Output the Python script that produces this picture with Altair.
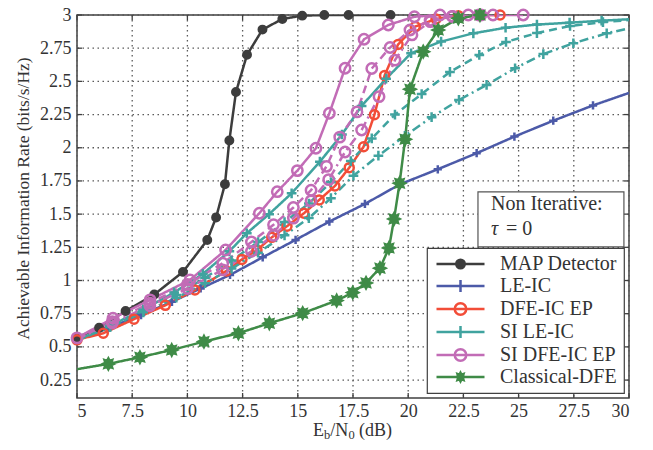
import math
import altair as alt
import pandas as pd

# ---------------- data ----------------
SERIES = ["MAP Detector", "LE-IC", "DFE-IC EP", "SI LE-IC", "SI DFE-IC EP", "Classical-DFE"]
COLORS = ["#3d3d3d", "#4c5aa8", "#f24d38", "#40a39f", "#c26cb6", "#3f8b47"]

MAP_x = [5.0, 6.0, 7.2, 8.5, 9.8, 10.9, 11.3, 11.7, 11.9, 12.2, 12.7, 13.4, 14.3, 15.2, 16.2, 17.3, 19.2]
MAP_y = [0.57, 0.645, 0.77, 0.895, 1.065, 1.305, 1.475, 1.725, 2.055, 2.42, 2.70, 2.89, 2.97, 2.995, 3.0, 3.0, 3.0]

LE_x = [5.0, 6.4, 7.9, 9.3, 10.6, 11.93, 13.41, 14.9, 16.43, 18.04, 19.63, 21.34, 23.1, 24.81, 26.57, 28.37, 30.0]
LE_y = [0.55, 0.64, 0.74, 0.84, 0.94, 1.042, 1.175, 1.306, 1.444, 1.577, 1.725, 1.838, 1.959, 2.084, 2.204, 2.319, 2.413]

DFE_x = [5.0, 6.19, 7.58, 9.0, 10.34, 11.77, 12.47, 13.15, 13.82, 14.51, 15.28, 15.97, 16.68, 17.33,
         17.98, 18.47, 18.93, 19.54, 20.32, 21.26, 22.27, 23.22, 24.16]
DFE_y = [0.553, 0.603, 0.709, 0.813, 0.929, 1.072, 1.159, 1.23, 1.325, 1.409, 1.507, 1.607, 1.712, 1.85,
         2.008, 2.249, 2.544, 2.778, 2.913, 2.97, 2.995, 3.0, 3.0]

SLE_x = [5.0, 6.5, 8.0, 9.4, 10.7, 11.9, 12.69, 13.7, 14.72, 16.0, 17.0, 17.89, 19.0, 20.13, 21.49, 22.95,
         24.41, 25.83, 27.31, 28.76, 30.0]
SLE_y = [0.55, 0.66, 0.78, 0.91, 1.05, 1.22, 1.356, 1.50, 1.657, 1.895, 2.10, 2.315, 2.52, 2.712, 2.80, 2.862,
         2.904, 2.928, 2.942, 2.957, 2.968]

SLE_dash_x = [5.0, 6.5, 8.0, 9.5, 10.8, 12.0, 13.2, 14.4, 15.5, 16.5, 17.4, 18.35, 19.4, 20.61, 21.89, 23.22,
              24.43, 25.83, 27.33, 28.82, 30.0]
SLE_dash_y = [0.55, 0.65, 0.77, 0.89, 1.02, 1.15, 1.29, 1.44, 1.58, 1.74, 1.90, 2.07, 2.25, 2.405, 2.571, 2.699,
              2.797, 2.864, 2.917, 2.947, 2.962]

SLE_dd_x = [5.0, 6.5, 8.0, 9.5, 10.8, 12.0, 13.2, 14.4, 15.5, 16.5, 17.52, 18.65, 19.85, 21.06, 22.3, 23.55,
            24.84, 26.12, 27.48, 28.99, 30.0]
SLE_dd_y = [0.55, 0.65, 0.76, 0.87, 0.98, 1.09, 1.21, 1.34, 1.47, 1.62, 1.79, 1.94, 2.09, 2.23, 2.36, 2.473,
            2.599, 2.706, 2.787, 2.862, 2.90]

SDFE_x = [5.0, 6.63, 8.31, 10.12, 11.73, 13.26, 14.07, 14.98, 15.82, 16.43, 17.14, 18.0, 19.1, 20.28, 21.44,
          22.72, 23.84, 25.21]
SDFE_y = [0.568, 0.716, 0.854, 1.005, 1.23, 1.507, 1.669, 1.828, 1.996, 2.26, 2.599, 2.817, 2.925, 2.987, 3.0,
          3.0, 3.0, 3.0]

SDFE_dash_x = [5.0, 6.6, 8.3, 10.0, 11.6, 12.9, 13.9, 14.8, 15.6, 16.3, 16.9, 17.68, 18.35, 19.18, 20.08, 20.99,
               22.0, 23.2]
SDFE_dash_y = [0.56, 0.69, 0.83, 0.97, 1.13, 1.29, 1.42, 1.55, 1.68, 1.86, 2.08, 2.27, 2.597, 2.755, 2.887, 2.96,
               2.99, 3.0]

SDFE_dd_x = [5.0, 6.6, 8.3, 10.0, 11.6, 12.9, 13.9, 14.8, 15.6, 16.4, 17.14, 17.89, 18.68, 19.4, 20.17, 21.0,
             22.0, 23.3]
SDFE_dd_y = [0.56, 0.68, 0.81, 0.94, 1.08, 1.22, 1.34, 1.47, 1.60, 1.76, 1.968, 2.134, 2.385, 2.66, 2.85, 2.95,
             2.99, 3.0]

CD_x = [5.0, 6.42, 7.85, 9.29, 10.75, 12.31, 13.71, 15.22, 16.76, 17.49, 18.09, 18.72, 19.13, 19.36, 19.61,
        19.86, 20.08, 20.68, 21.36, 22.27, 23.25]
CD_y = [0.332, 0.372, 0.422, 0.477, 0.54, 0.603, 0.678, 0.754, 0.849, 0.909, 0.982, 1.093, 1.245, 1.464, 1.733,
        2.064, 2.441, 2.724, 2.887, 2.975, 3.0]

X_TICKS = [5, 7.5, 10, 12.5, 15, 17.5, 20, 22.5, 25, 27.5, 30]
Y_TICKS = [0.25, 0.5, 0.75, 1, 1.25, 1.5, 1.75, 2, 2.25, 2.5, 2.75, 3]

NOTE_TITLE = "Non Iterative:"
NOTE_SYMBOL = "\u03c4"
NOTE_VALUE = "= 0"
NOTE_BOX = {"x": 23.16, "x2": 29.77, "y": 1.667, "y2": 1.253}
NOTE_TEXT_X = 23.75
NOTE_TEXT_Y = [1.575, 1.385]

# (series, variant, x, y, first point marked, last point marked)
CURVES = [
    ("MAP Detector", "solid", MAP_x, MAP_y, True, True),
    ("LE-IC", "solid", LE_x, LE_y, False, False),
    ("DFE-IC EP", "solid", DFE_x, DFE_y, True, True),
    ("SI LE-IC", "solid", SLE_x, SLE_y, False, False),
    ("SI LE-IC", "dash", SLE_dash_x, SLE_dash_y, False, False),
    ("SI LE-IC", "dashdot", SLE_dd_x, SLE_dd_y, False, False),
    ("SI DFE-IC EP", "solid", SDFE_x, SDFE_y, True, True),
    ("SI DFE-IC EP", "dash", SDFE_dash_x, SDFE_dash_y, False, True),
    ("SI DFE-IC EP", "dashdot", SDFE_dd_x, SDFE_dd_y, False, True),
    ("Classical-DFE", "solid", CD_x, CD_y, False, True),
]

rows = []
order = 0
for s, v, xs_, ys_, fm, lm in CURVES:
    n = len(xs_)
    for i, (x, y) in enumerate(zip(xs_, ys_)):
        marked = (i > 0 or fm) and (i < n - 1 or lm)
        rows.append({"series": s, "variant": v, "key": s + "|" + v, "x": x, "y": y,
                     "marked": marked, "o": order})
        order += 1
df = pd.DataFrame(rows)

# ---------------- marker shapes ----------------
def circle_path(cx, r):
    return (f"M{cx + r:.3f},0A{r:.3f},{r:.3f} 0 1,1 {cx - r:.3f},0"
            f"A{r:.3f},{r:.3f} 0 1,1 {cx + r:.3f},0Z")

def plus_path(cx, h):
    return f"M{cx - h:.3f},0H{cx + h:.3f}M{cx:.3f},{-h:.3f}V{h:.3f}"

def star_path(cx, R, ri=0.6, n=8):
    pts = []
    for k in range(2 * n):
        r = R if k % 2 == 0 else R * ri
        a = math.pi * k / n - math.pi / 2
        pts.append((cx + r * math.cos(a), r * math.sin(a)))
    return "M" + "L".join(f"{px:.3f},{py:.3f}" for px, py in pts) + "Z"

PLUS = plus_path(0, 1)
STAR = star_path(0, 1)
MARK_SHAPES = ["circle", PLUS, "circle", PLUS, "circle", STAR]
MARK_SIZES = [55, 120, 125, 120, 125, 60]
MARK_FILLS = [COLORS[0], "transparent", "transparent", "transparent", "transparent", COLORS[5]]
MARK_SW = [2, 2.2, 2.8, 2.2, 2.2, 2]
LINE_SW = [2.5, 2.5, 3, 2.5, 2.5, 2.5]

C = 3.5
LINE = "M-1.3,0H8.3"
LEG_SHAPES = [LINE + circle_path(C, 0.85), LINE + plus_path(C, 1.2), LINE + circle_path(C, 1.15),
              LINE + plus_path(C, 1.2), LINE + circle_path(C, 1.15), LINE + star_path(C, 0.85)]

FONT = "Liberation Serif"
TXT = "#333333"
FRAME = "#404040"
GRID = "#5a5a5a"
W, H = 552, 383
TICK = 5

xs = alt.Scale(domain=[5, 30], nice=False, zero=False)
ys = alt.Scale(domain=[0.115, 3], nice=False, zero=False)
stroke_scale = alt.Scale(domain=SERIES, range=COLORS)
fill_scale = alt.Scale(domain=SERIES, range=MARK_FILLS)

X_AX = alt.Axis(values=X_TICKS, labelExpr="'' + datum.value", title=None, labelPadding=4, grid=False)
Y_AX = alt.Axis(values=Y_TICKS, labelExpr="'' + datum.value",
                title="Achievable Information Rate (bits/s/Hz)",
                labelPadding=6, titleX=-45, titleY=183, grid=False)

def X(field="x:Q"):
    return alt.X(field, scale=xs, axis=X_AX)

def Y(field="y:Q"):
    return alt.Y(field, scale=ys, axis=Y_AX)

base = alt.Chart(df)

# dotted grid and inner tick marks, drawn from the tick values through the scales
xt_df = pd.DataFrame({"x": X_TICKS})
yt_df = pd.DataFrame({"y": Y_TICKS})
grid_layers = [
    alt.Chart(xt_df).mark_rule(color=GRID, strokeWidth=1.3, strokeDash=[1.5, 3.5]).encode(x=X()),
    alt.Chart(yt_df).mark_rule(color=GRID, strokeWidth=1.3, strokeDash=[1.5, 3.5]).encode(y=Y()),
]
tick_layers = [
    alt.Chart(xt_df).mark_rule(color=FRAME, strokeWidth=1.3).encode(
        x=X(), y=alt.value(H), y2=alt.value(H - TICK)),
    alt.Chart(xt_df).mark_rule(color=FRAME, strokeWidth=1.3).encode(
        x=X(), y=alt.value(0), y2=alt.value(TICK)),
    alt.Chart(yt_df).mark_rule(color=FRAME, strokeWidth=1.3).encode(
        y=Y(), x=alt.value(0), x2=alt.value(TICK)),
    alt.Chart(yt_df).mark_rule(color=FRAME, strokeWidth=1.3).encode(
        y=Y(), x=alt.value(W), x2=alt.value(W - TICK)),
]

lines = base.mark_line(clip=True).encode(
    x=X(), y=Y(),
    stroke=alt.Stroke("series:N", scale=stroke_scale, legend=None),
    strokeDash=alt.StrokeDash("variant:N",
                              scale=alt.Scale(domain=["solid", "dash", "dashdot"],
                                              range=[[1, 0], [8, 5], [9, 4, 2, 4]]),
                              legend=None),
    strokeWidth=alt.StrokeWidth("series:N", scale=alt.Scale(domain=SERIES, range=LINE_SW), legend=None),
    detail="key:N",
    order="o:Q",
)

points = base.mark_point(opacity=1).encode(
    x=X(), y=Y(),
    stroke=alt.Stroke("series:N", scale=stroke_scale, legend=None),
    fill=alt.Fill("series:N", scale=fill_scale, legend=None),
    shape=alt.Shape("series:N", scale=alt.Scale(domain=SERIES, range=MARK_SHAPES), legend=None),
    size=alt.Size("series:N", scale=alt.Scale(domain=SERIES, range=MARK_SIZES), legend=None),
    strokeWidth=alt.StrokeWidth("series:N", scale=alt.Scale(domain=SERIES, range=MARK_SW), legend=None),
).transform_filter("datum.marked")

legend_layer = base.mark_point(opacity=0, strokeWidth=2.5).encode(
    x=X(), y=Y(),
    stroke=alt.Stroke("series:N", scale=stroke_scale, legend=alt.Legend(title=None)),
    fill=alt.Fill("series:N", scale=fill_scale, legend=alt.Legend(title=None)),
    shape=alt.Shape("series:N", scale=alt.Scale(domain=SERIES, range=LEG_SHAPES),
                    legend=alt.Legend(title=None)),
)

note_df = pd.DataFrame([NOTE_BOX])
note_box = alt.Chart(note_df).mark_rect(fill="white", stroke="#555555", strokeWidth=1.2).encode(
    x=X(), x2="x2:Q", y=Y(), y2="y2:Q",
)
note_line1 = alt.Chart(pd.DataFrame({"t": [NOTE_TITLE], "x": [NOTE_TEXT_X], "y": [NOTE_TEXT_Y[0]]})).mark_text(
    align="left", baseline="middle", font=FONT, fontSize=20, color=TXT
).encode(x=X(), y=Y(), text="t:N")
note_tau = alt.Chart(pd.DataFrame({"t": [NOTE_SYMBOL], "x": [NOTE_TEXT_X], "y": [NOTE_TEXT_Y[1]]})).mark_text(
    align="left", baseline="middle", font=FONT, fontSize=20, fontStyle="italic", color=TXT
).encode(x=X(), y=Y(), text="t:N")
note_val = alt.Chart(pd.DataFrame({"t": [NOTE_VALUE], "x": [NOTE_TEXT_X], "y": [NOTE_TEXT_Y[1]]})).mark_text(
    align="left", baseline="middle", font=FONT, fontSize=20, color=TXT, dx=15
).encode(x=X(), y=Y(), text="t:N")

# x-axis title with subscripts: E_b / N_0 (dB)
XT_PARTS = [("E", 236.0, 0, 18), ("b", 247.0, 3, 12.5), ("/N", 253.3, 0, 18), ("0", 271.5, 3, 12.5),
            ("(dB)", 282.0, 0, 18)]
title_layers = []
for t, px, dy, fs in XT_PARTS:
    title_layers.append(
        alt.Chart(pd.DataFrame({"t": [t]})).mark_text(
            align="left", baseline="alphabetic", font=FONT, fontSize=fs, color=TXT
        ).encode(x=alt.value(px), y=alt.value(421 + dy), text="t:N")
    )

chart = alt.layer(*grid_layers, *tick_layers, lines, points, legend_layer, note_box, note_line1, note_tau,
                  note_val, *title_layers).resolve_scale(
    shape="independent"
).resolve_legend(
    stroke="independent", fill="independent", shape="independent"
).properties(
    width=W, height=H,
    autosize=alt.AutoSizeParams(type="none"),
    padding={"left": 69, "top": 7, "right": 16, "bottom": 44},
).configure_axis(
    labelFont=FONT, titleFont=FONT, labelFontSize=18, titleFontSize=17.5,
    labelColor=TXT, titleColor=TXT, titleFontWeight="normal",
    domain=False, ticks=False,
).configure_view(
    stroke=FRAME, strokeWidth=1.5
).configure_legend(
    orient="bottom-right", offset=5, padding=6, rowPadding=1,
    strokeColor=FRAME, fillColor="white", strokeWidth=1.2,
    labelFont=FONT, labelFontSize=20, labelColor=TXT, labelOffset=47,
    symbolSize=100, symbolStrokeWidth=2.5, symbolOpacity=1,
)

chart.save("out.html", embed_options={"renderer": "svg", "actions": False})
